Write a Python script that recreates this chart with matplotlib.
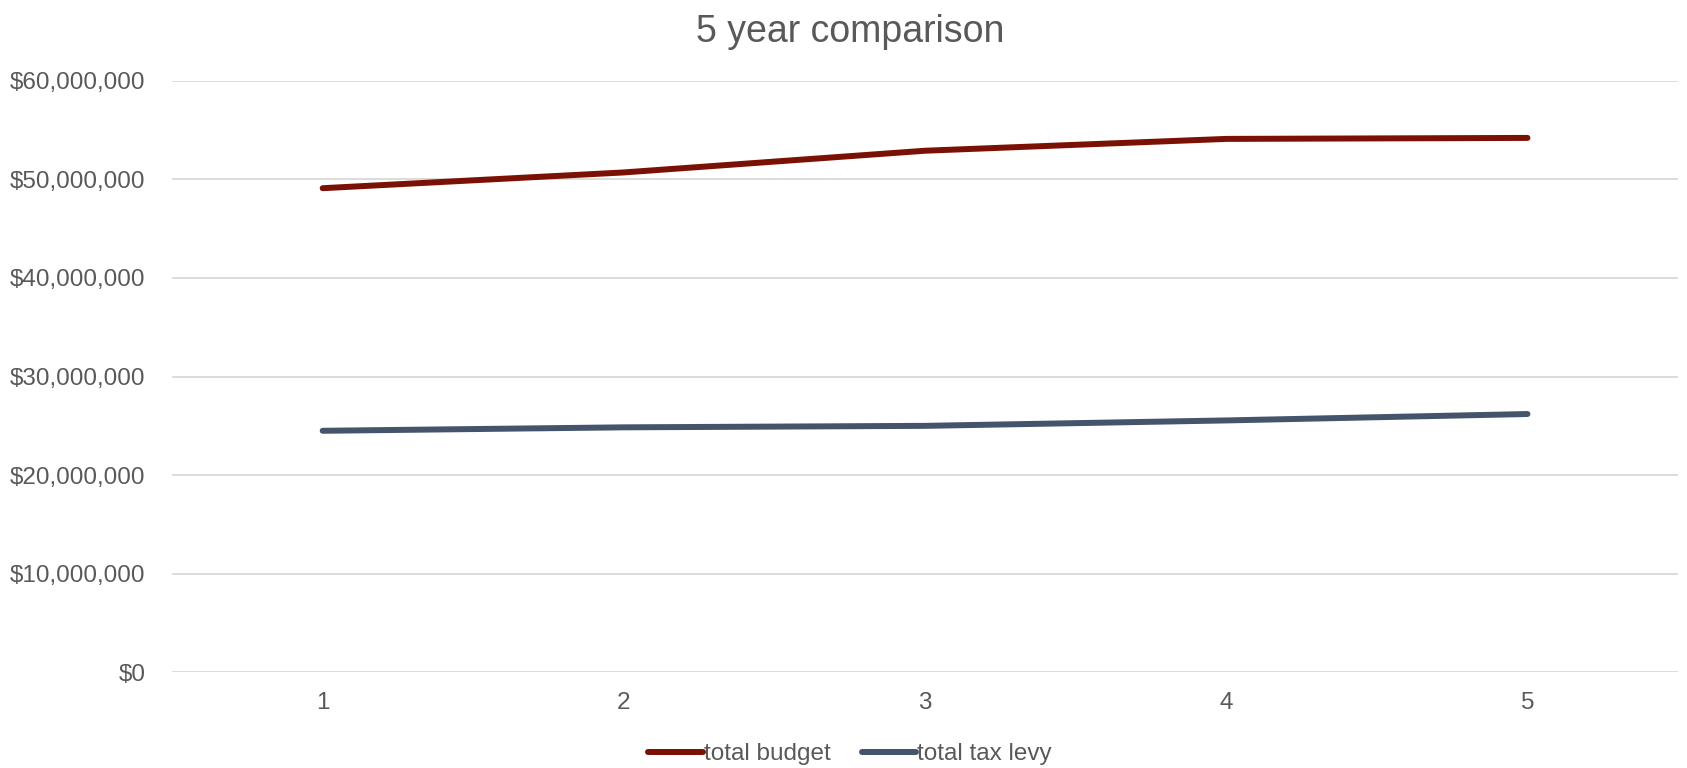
import matplotlib
matplotlib.use("Agg")
import matplotlib.pyplot as plt
from matplotlib.ticker import FuncFormatter, MultipleLocator

# Data
years = [1, 2, 3, 4, 5]
total_budget = [49_100_000, 50_700_000, 52_900_000, 54_100_000, 54_200_000]
total_tax_levy = [24_500_000, 24_850_000, 25_000_000, 25_550_000, 26_200_000]
series_names = ["total budget", "total tax levy"]
title = "5 year comparison"

plt.rcParams["font.family"] = ["Liberation Sans", "DejaVu Sans"]
text_color = "#595959"
grid_color = "#D9D9D9"
budget_color = "#7A1104"
levy_color = "#44546A"

fig = plt.figure(figsize=(16.87, 7.68), dpi=100)
ax = fig.add_axes([0.102, 0.1245, 0.8927, 0.7704])

ax.plot(years, total_budget, color=budget_color, lw=4.3, solid_capstyle="round",
        solid_joinstyle="round", label=series_names[0], zorder=3)
ax.plot(years, total_tax_levy, color=levy_color, lw=4.3, solid_capstyle="round",
        solid_joinstyle="round", label=series_names[1], zorder=3)

ax.set_xlim(0.5, 5.5)
ax.set_ylim(0, 60_000_000)
ax.yaxis.set_major_locator(MultipleLocator(10_000_000))
ax.yaxis.set_major_formatter(FuncFormatter(lambda v, p: f"${v:,.0f}"))
ax.set_xticks(years)
ax.set_xticklabels([str(y) for y in years])

ax.grid(axis="y", color=grid_color, lw=1.3)
ax.set_axisbelow(True)
for s in ax.spines.values():
    s.set_visible(False)
ax.tick_params(axis="both", length=0, labelsize=17.5, colors=text_color)
ax.tick_params(axis="y", pad=19)
ax.tick_params(axis="x", pad=14)

fig.text(0.504, 0.958, title, ha="center", va="center", fontsize=27, color=text_color)

leg = fig.legend(loc="center", bbox_to_anchor=(0.504, 0.018), ncol=2, frameon=False,
                 fontsize=17.5, handlelength=2.25, handletextpad=0.05, columnspacing=1.25)
for t in leg.get_texts():
    t.set_color(text_color)

fig.savefig("out.png", dpi=100)
